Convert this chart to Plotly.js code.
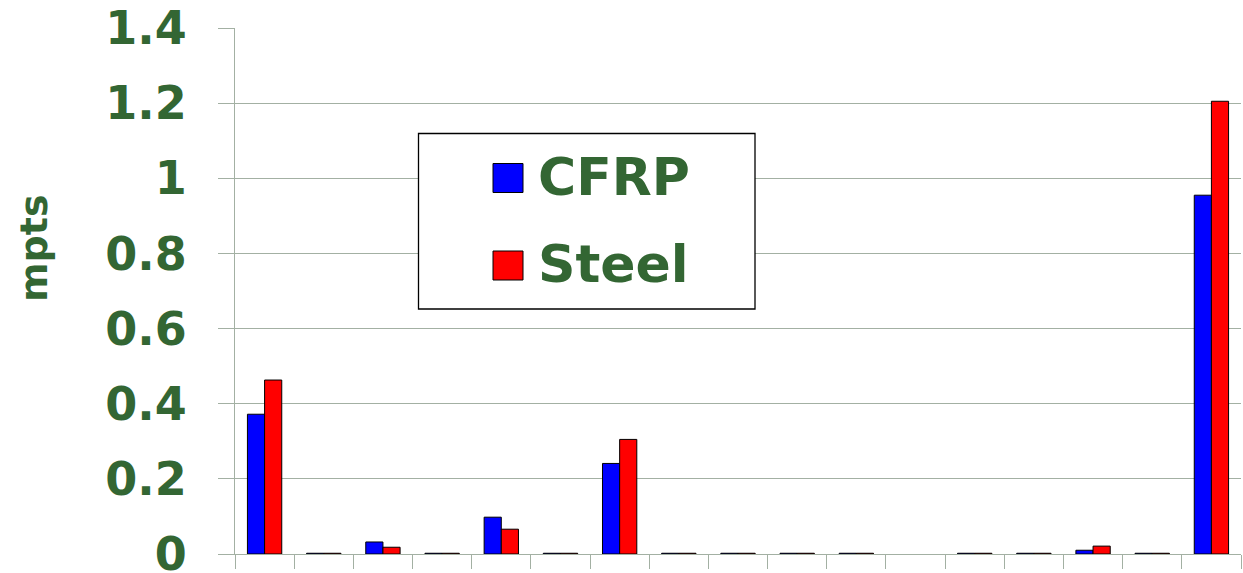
<!DOCTYPE html>
<html>
<head>
<meta charset="utf-8">
<script src="https://cdn.plot.ly/plotly-3.0.1.min.js"></script>
<style>html,body{margin:0;padding:0;background:#fff;}#chart{width:1243px;height:573px;}</style>
</head>
<body>
<div id="chart"></div>
<script>
const categories = ["1","2","3","4","5","6","7","8","9","10","11","12","13","14","15","16","17"];
const cfrp  = [0.372, 0.002, 0.032, 0.002, 0.098, 0.002, 0.241, 0.002, 0.002, 0.002, 0.002, null, 0.002, 0.002, 0.010, 0.002, 0.955];
const steel = [0.463, 0.002, 0.018, 0.002, 0.066, 0.002, 0.305, 0.002, 0.002, 0.002, 0.002, null, 0.002, 0.002, 0.021, 0.002, 1.205];
const seriesNames = ["CFRP", "Steel"];
const yTicks = [0, 0.2, 0.4, 0.6, 0.8, 1, 1.2, 1.4];
const yTickText = ["0", "0.2", "0.4", "0.6", "0.8", "1", "1.2", "1.4"];
const yTitle = "mpts";

const green = '#336633';
const gridCol = '#a3b0a3';
const font = 'DejaVu Sans, Verdana, sans-serif';

const traces = [
  {type: 'bar', name: seriesNames[0], x: categories, y: cfrp,
   marker: {color: '#0000ff', line: {color: '#000000', width: 1}}},
  {type: 'bar', name: seriesNames[1], x: categories, y: steel,
   marker: {color: '#ff0000', line: {color: '#000000', width: 1}}}
];

// paper coords helpers (plot area 235..1241 x, 28..554 y)
const px = v => (v - 235) / 1006;
const py = v => (554 - v) / 526;

const layout = {
  width: 1243, height: 573,
  margin: {l: 235, r: 2, t: 28, b: 19, pad: 0},
  paper_bgcolor: '#ffffff', plot_bgcolor: '#ffffff',
  showlegend: false,
  barmode: 'group', bargap: 0.42, bargroupgap: 0,
  font: {family: font, color: green},
  xaxis: {
    type: 'category', categoryorder: 'array', categoryarray: categories,
    showticklabels: false, ticks: 'outside', tickson: 'boundaries',
    ticklen: 14, tickcolor: gridCol, tickwidth: 1,
    showline: true, linecolor: gridCol, linewidth: 1,
    showgrid: false, zeroline: false, range: [-0.5, 16.5], fixedrange: true
  },
  yaxis: {
    range: [0, 1.4], tickvals: yTicks, ticktext: yTickText,
    ticks: 'outside', ticklen: 16, tickcolor: gridCol, tickwidth: 1,
    ticklabelstandoff: 22, ticklabeloverflow: 'allow',
    tickfont: {family: font, size: 46, color: green, weight: 'bold'},
    showline: true, linecolor: gridCol, linewidth: 1,
    showgrid: true, gridcolor: gridCol, gridwidth: 1, zeroline: false,
    automargin: false
  },
  shapes: [
    {type: 'rect', xref: 'paper', yref: 'paper', x0: px(418.5), x1: px(755), y0: py(309), y1: py(133.5),
     line: {color: '#000000', width: 1.3}, fillcolor: '#ffffff', layer: 'above'},
    {type: 'rect', xref: 'paper', yref: 'paper', x0: px(493), x1: px(523), y0: py(192.5), y1: py(163.5),
     line: {color: '#000000', width: 1}, fillcolor: '#0000ff', layer: 'above'},
    {type: 'rect', xref: 'paper', yref: 'paper', x0: px(493), x1: px(523), y0: py(280), y1: py(251),
     line: {color: '#000000', width: 1}, fillcolor: '#ff0000', layer: 'above'}
  ],
  annotations: [
    {xref: 'paper', yref: 'paper', x: px(536), y: py(177), xanchor: 'left', yanchor: 'middle',
     text: '<b>' + seriesNames[0] + '</b>', showarrow: false,
     font: {family: font, size: 52, color: green}},
    {xref: 'paper', yref: 'paper', x: px(536), y: py(264), xanchor: 'left', yanchor: 'middle',
     text: '<b>' + seriesNames[1] + '</b>', showarrow: false,
     font: {family: font, size: 52, color: green}},
    {xref: 'paper', yref: 'paper', x: px(34), y: py(248), xanchor: 'center', yanchor: 'middle',
     textangle: -90, text: '<b>' + yTitle + '</b>', showarrow: false,
     font: {family: font, size: 38, color: green}}
  ]
};

Plotly.newPlot('chart', traces, layout, {staticPlot: true, displayModeBar: false});
</script>
</body>
</html>
